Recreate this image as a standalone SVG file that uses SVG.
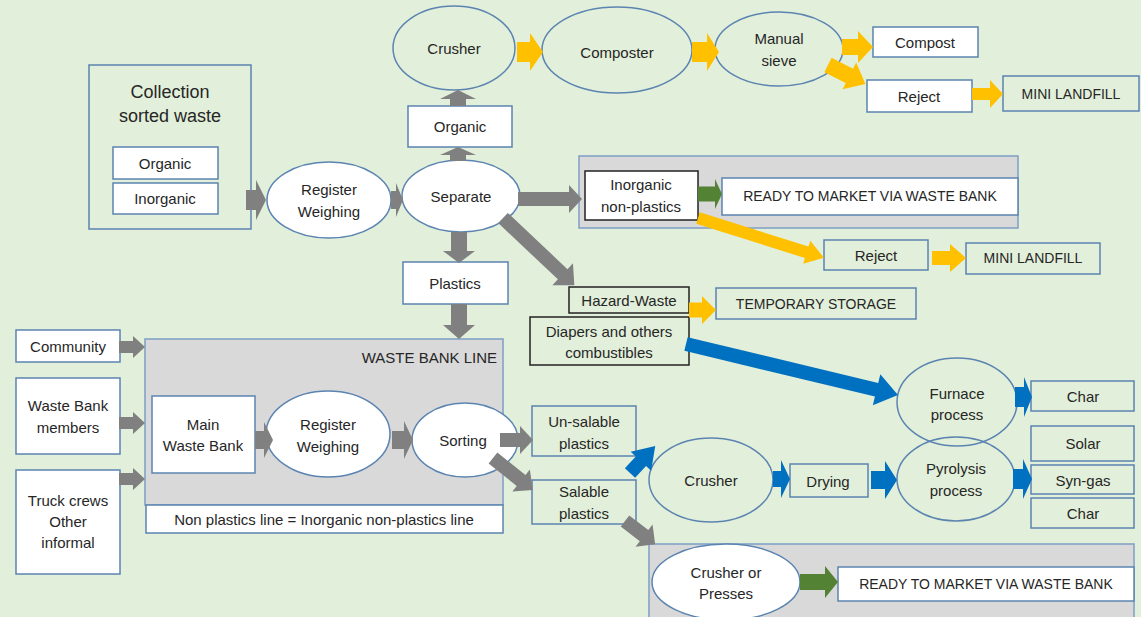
<svg xmlns="http://www.w3.org/2000/svg" width="1141" height="617" viewBox="0 0 1141 617">
<style>
.bg{fill:#e2efda}
.w{fill:#ffffff;stroke:#5b84b1;stroke-width:1.5}
.n{fill:none;stroke:#5b84b1;stroke-width:1.5}
.k{fill:none;stroke:#222222;stroke-width:1.5}
.kw{fill:#ffffff;stroke:#222222;stroke-width:1.5}
.c{fill:#d9d9d9;stroke:#7e9ec6;stroke-width:1.5}
text{font-family:"Liberation Sans",Arial,sans-serif;font-size:15px;fill:#262626;text-anchor:middle;dominant-baseline:central}
.cap{font-size:14px}
.big{font-size:18px}
.gy{fill:#808080}
.yl{fill:#ffc000}
.gr{fill:#548235}
.bl{fill:#0070c0}
</style>
<rect class="bg" x="0" y="0" width="1141" height="617"/>

<g id="containers">
<rect id="inorganic-line" class="c" x="579" y="156" width="439" height="72"/>
<rect id="waste-bank-line" class="c" x="145" y="339" width="358" height="166"/>
<rect id="salable-line" class="c" x="649" y="544" width="485" height="80"/>
</g>

<g id="nodes">
<g id="collection"><rect class="n" x="89" y="65" width="162" height="164"/><text class="big" x="170" y="92">Collection</text><text class="big" x="170" y="116">sorted waste</text></g>
<g id="col-organic"><rect class="w" x="113" y="147" width="105" height="32"/><text x="165" y="163">Organic</text></g>
<g id="col-inorganic"><rect class="w" x="113" y="183" width="105" height="31"/><text x="165" y="198">Inorganic</text></g>
<g id="register1"><ellipse class="w" cx="329" cy="200" rx="62" ry="38"/><text x="329" y="189">Register</text><text x="329" y="211">Weighing</text></g>
<g id="separate"><ellipse class="w" cx="461" cy="196" rx="59" ry="36"/><text x="461" y="196">Separate</text></g>
<g id="organic"><rect class="w" x="408" y="106" width="104" height="41"/><text x="460" y="126">Organic</text></g>
<g id="crusher1"><ellipse class="n" cx="454" cy="48" rx="61" ry="42"/><text x="454" y="48">Crusher</text></g>
<g id="composter"><ellipse class="n" cx="617" cy="50" rx="75" ry="43"/><text x="617" y="52">Composter</text></g>
<g id="sieve"><ellipse class="n" cx="779" cy="49" rx="64" ry="37"/><text x="779" y="38">Manual</text><text x="779" y="60">sieve</text></g>
<g id="compost"><rect class="w" x="873" y="27" width="105" height="30"/><text x="925" y="42">Compost</text></g>
<g id="reject1"><rect class="w" x="867" y="80" width="105" height="32"/><text x="919" y="96">Reject</text></g>
<g id="landfill1"><rect class="n" x="1003" y="76" width="136" height="35"/><text class="cap" x="1071" y="94">MINI LANDFILL</text></g>
<g id="inorganic-np"><rect class="kw" x="585" y="171" width="113" height="49"/><text x="641" y="184">Inorganic</text><text x="641" y="206">non-plastics</text></g>
<g id="ready1"><rect class="w" x="722" y="178" width="296" height="37"/><text class="cap" x="870" y="196">READY TO MARKET VIA WASTE BANK</text></g>
<g id="reject2"><rect class="n" x="824" y="240" width="104" height="30"/><text x="876" y="255">Reject</text></g>
<g id="landfill2"><rect class="n" x="966" y="243" width="134" height="31"/><text class="cap" x="1033" y="258">MINI LANDFILL</text></g>
<g id="plastics"><rect class="w" x="403" y="262" width="105" height="42"/><text x="455" y="283">Plastics</text></g>
<g id="hazard"><rect class="k" x="569" y="287" width="120" height="26"/><text x="629" y="300">Hazard-Waste</text></g>
<g id="temp-storage"><rect class="n" x="716" y="288" width="200" height="31"/><text class="cap" x="816" y="304">TEMPORARY STORAGE</text></g>
<g id="diapers"><rect class="k" x="530" y="317" width="159" height="48"/><text x="609" y="331">Diapers and others</text><text x="609" y="352">combustibles</text></g>
<g id="community"><rect class="w" x="16" y="330" width="104" height="32"/><text x="68" y="346">Community</text></g>
<g id="members"><rect class="w" x="16" y="378" width="104" height="76"/><text x="68" y="405">Waste Bank</text><text x="68" y="427">members</text></g>
<g id="truck"><rect class="w" x="16" y="470" width="104" height="104"/><text x="68" y="500">Truck crews</text><text x="68" y="521">Other</text><text x="68" y="542">informal</text></g>
<g id="wbl-label"><text x="497" y="357" style="text-anchor:end">WASTE BANK LINE</text></g>
<g id="main-wb"><rect class="w" x="152" y="396" width="103" height="77"/><text x="203" y="424">Main</text><text x="203" y="445">Waste Bank</text></g>
<g id="register2"><ellipse class="w" cx="328" cy="434" rx="62" ry="43"/><text x="328" y="424">Register</text><text x="328" y="446">Weighing</text></g>
<g id="sorting"><ellipse class="w" cx="465" cy="440" rx="53" ry="37"/><text x="463" y="440">Sorting</text></g>
<g id="non-plastics"><rect class="w" x="146" y="505" width="357" height="28"/><text x="324" y="519">Non plastics line = Inorganic non-plastics line</text></g>
<g id="unsalable"><rect class="n" x="532" y="406" width="104" height="50"/><text x="584" y="421">Un-salable</text><text x="584" y="443">plastics</text></g>
<g id="salable"><rect class="n" x="532" y="480" width="104" height="44"/><text x="584" y="491">Salable</text><text x="584" y="513">plastics</text></g>
<g id="crusher2"><ellipse class="n" cx="711" cy="480" rx="62" ry="42"/><text x="711" y="480">Crusher</text></g>
<g id="drying"><rect class="n" x="790" y="464" width="78" height="33"/><text x="828" y="481">Drying</text></g>
<g id="furnace"><ellipse class="n" cx="957" cy="402" rx="60" ry="44"/><text x="957" y="393">Furnace</text><text x="957" y="414">process</text></g>
<g id="pyrolysis"><ellipse class="n" cx="956" cy="479" rx="59" ry="42"/><text x="956" y="468">Pyrolysis</text><text x="956" y="490">process</text></g>
<g id="char1"><rect class="n" x="1031" y="381" width="103" height="30"/><text x="1083" y="396">Char</text></g>
<g id="solar"><rect class="n" x="1031" y="426" width="103" height="35"/><text x="1083" y="443">Solar</text></g>
<g id="syngas"><rect class="n" x="1031" y="465" width="103" height="29"/><text x="1083" y="480">Syn-gas</text></g>
<g id="char2"><rect class="n" x="1031" y="498" width="103" height="30"/><text x="1083" y="513">Char</text></g>
<g id="crusher-presses"><ellipse class="w" cx="726" cy="582" rx="74" ry="38"/><text x="726" y="572">Crusher or</text><text x="726" y="593">Presses</text></g>
<g id="ready2"><rect class="w" x="838" y="567" width="296" height="34"/><text class="cap" x="986" y="584">READY TO MARKET VIA WASTE BANK</text></g>
</g>

<g id="connectors">
<polygon class="gy" transform="translate(246,200)" points="0,-10 10,-10 10,-20 20,0 10,20 10,10 0,10"/>
<polygon class="gy" transform="translate(391,200)" points="0,-9 5,-9 5,-17 12,0 5,17 5,9 0,9"/>
<polygon class="gy" transform="translate(458,161) rotate(-90)" points="0,-8 6,-8 6,-18 14,0 6,18 6,8 0,8"/>
<polygon class="gy" transform="translate(458,106) rotate(-90)" points="0,-8 7,-8 7,-18 16,0 7,18 7,8 0,8"/>
<polygon class="gy" transform="translate(518,199)" points="0,-7 51,-7 51,-14 64,0 51,14 51,7 0,7"/>
<polygon class="gy" transform="translate(459,232) rotate(90)" points="0,-8 19,-8 19,-16 31,0 19,16 19,8 0,8"/>
<polygon class="gy" transform="translate(459,304) rotate(90)" points="0,-8 21,-8 21,-16 35,0 21,16 21,8 0,8"/>
<polygon class="gy" transform="translate(503,218) rotate(43.3)" points="0,-7 82,-7 82,-15 98,0 82,15 82,7 0,7"/>
<polygon class="gy" transform="translate(119,347)" points="0,-6 14,-6 14,-11 26,0 14,11 14,6 0,6"/>
<polygon class="gy" transform="translate(119,423)" points="0,-6 14,-6 14,-11 26,0 14,11 14,6 0,6"/>
<polygon class="gy" transform="translate(119,479)" points="0,-6 14,-6 14,-11 26,0 14,11 14,6 0,6"/>
<polygon class="gy" transform="translate(255,440)" points="0,-9 9,-9 9,-18 18,0 9,18 9,9 0,9"/>
<polygon class="gy" transform="translate(392,440)" points="0,-9 12,-9 12,-19 21,0 12,19 12,9 0,9"/>
<polygon class="gy" transform="translate(500,440)" points="0,-7 20,-7 20,-14 33,0 20,14 20,7 0,7"/>
<polygon class="gy" transform="translate(493,458) rotate(38.7)" points="0,-7 36,-7 36,-14 51,0 36,14 36,7 0,7"/>
<polygon class="gy" transform="translate(625,521) rotate(37.5)" points="0,-7 24,-7 24,-14 38,0 24,14 24,7 0,7"/>
<polygon class="yl" transform="translate(517,52)" points="0,-10 13,-10 13,-19 26,0 13,19 13,10 0,10"/>
<polygon class="yl" transform="translate(692,52)" points="0,-10 15,-10 15,-19 27,0 15,19 15,10 0,10"/>
<polygon class="yl" transform="translate(842,47)" points="0,-8 16,-8 16,-16 31,0 16,16 16,8 0,8"/>
<polygon class="yl" transform="translate(828,65) rotate(27)" points="0,-8 24,-8 24,-15 42,0 24,15 24,8 0,8"/>
<polygon class="yl" transform="translate(972,94)" points="0,-6 18,-6 18,-14 31,0 18,14 18,6 0,6"/>
<polygon class="yl" transform="translate(698,218) rotate(17.5)" points="0,-6 114,-6 114,-12 132,0 114,12 114,6 0,6"/>
<polygon class="yl" transform="translate(932,258)" points="0,-7 18,-7 18,-14 34,0 18,14 18,7 0,7"/>
<polygon class="yl" transform="translate(689,310)" points="0,-7.5 13,-7.5 13,-14 27,0 13,14 13,7.5 0,7.5"/>
<polygon class="gr" transform="translate(698,194)" points="0,-7.5 17,-7.5 17,-15 24,0 17,15 17,7.5 0,7.5"/>
<polygon class="gr" transform="translate(800,582)" points="0,-8 25,-8 25,-16 38,0 25,16 25,8 0,8"/>
<polygon class="bl" transform="translate(686,344) rotate(13.5)" points="0,-7 196,-7 196,-16 218,0 196,16 196,7 0,7"/>
<polygon class="bl" transform="translate(630,473) rotate(-47)" points="0,-7 16,-7 16,-14 37,0 16,14 16,7 0,7"/>
<polygon class="bl" transform="translate(773,479)" points="0,-8 8,-8 8,-19 17,0 8,19 8,8 0,8"/>
<polygon class="bl" transform="translate(871,480)" points="0,-9 14,-9 14,-19 26,0 14,19 14,9 0,9"/>
<polygon class="bl" transform="translate(1015,397)" points="0,-10 9,-10 9,-20 17,0 9,20 9,10 0,10"/>
<polygon class="bl" transform="translate(1013,479)" points="0,-10 10,-10 10,-20 19,0 10,20 10,10 0,10"/>
</g>
</svg>
